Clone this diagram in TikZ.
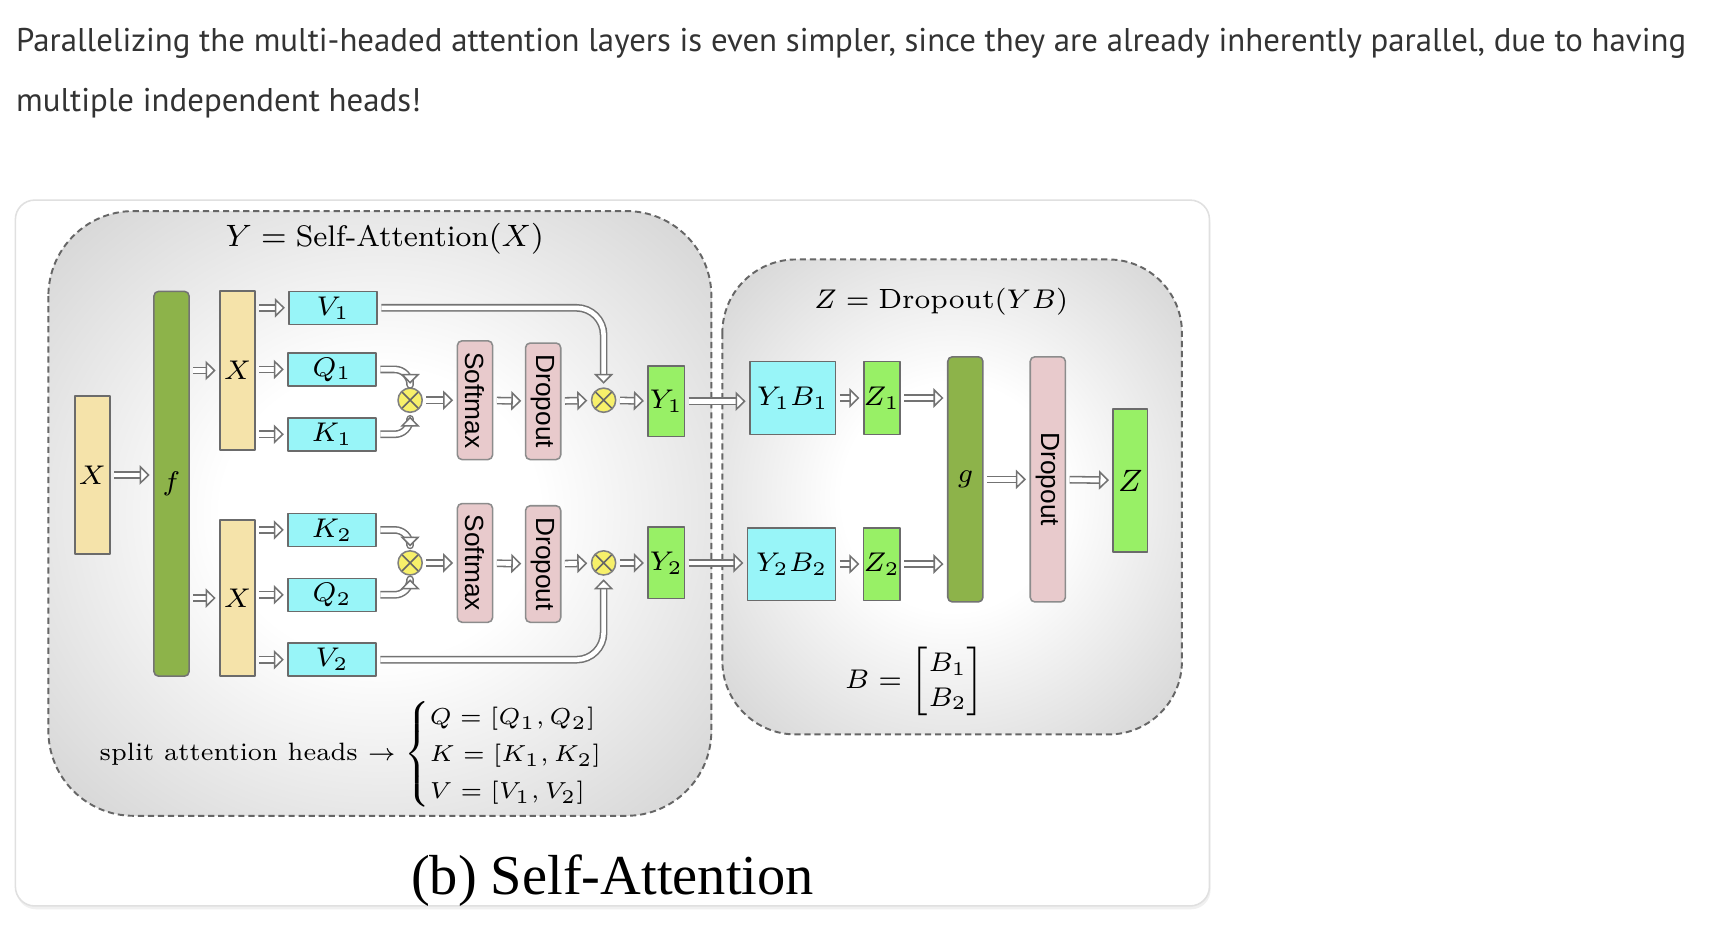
\documentclass[tikz,border=0pt]{standalone}
\usepackage{amsmath,amssymb}
\usepackage{fontspec}
\usepackage{xcolor}
\usepackage{tikz}
\usetikzlibrary{arrows.meta,positioning,calc}
\newfontfamily\parafont{PT Sans}
\newfontfamily\capfont{Liberation Serif}
\newfontfamily\normfont{Liberation Sans}
\definecolor{para}{HTML}{333333}
\definecolor{wheat}{HTML}{F5E3AA}
\definecolor{leaf}{HTML}{8DB34A}
\definecolor{headgreen}{HTML}{98F066}
\definecolor{aqua}{HTML}{98F5F8}
\definecolor{rose}{HTML}{E8CACC}
\definecolor{lemon}{HTML}{F7F06A}
\definecolor{edge}{HTML}{6B6B6B}
\pgfdeclareradialshading{RegionGlow}{\pgfpoint{0bp}{0bp}}{color(0bp)=(white); color(12bp)=(white); color(50bp)=(black!28); color(72bp)=(black!36)}
\newcommand{\LabelSize}{\fontsize{6.6}{8}\selectfont}
\newcommand{\RightSize}{\fontsize{6.6}{8}\selectfont}
\tikzset{
  InBox/.style={draw=edge, fill=wheat, minimum width=0.32cm, inner sep=0pt},
  NetBox/.style={draw=black!55, fill=leaf, rounded corners=1.2pt, minimum width=0.32cm, inner sep=0pt},
  HeadBox/.style={draw=edge, fill=aqua, minimum width=0.8cm, minimum height=0.3cm, inner sep=0pt},
  NormBox/.style={draw=black!45, fill=rose, rounded corners=1.2pt, rotate=-90,
    minimum height=0.32cm, inner sep=0pt, font=\normfont\fontsize{6.8}{8}\selectfont},
  OutBox/.style={draw=edge, fill=headgreen, inner sep=0pt},
  MulNode/.style={circle, draw=black!50, fill=lemon, minimum size=0.22cm, inner sep=0pt,
    path picture={\draw[black!60, line width=0.4pt]
      (path picture bounding box.north west) -- (path picture bounding box.south east)
      (path picture bounding box.north east) -- (path picture bounding box.south west);}},
  DblArrow/.style={draw=black!55, line width=0.4pt, double=white, double distance=1.2pt,
    -{Triangle[fill=white, line width=0.4pt, length=2.6pt, width=5pt]},
    shorten <=0.9pt, shorten >=0.9pt},
  Region/.style={draw=black!60, dash pattern=on 1.6pt off 1pt, line width=0.5pt, shading=RegionGlow}
}

\begin{document}
\begin{tikzpicture}[x=0.1mm, y=-0.1mm, line join=round]
  \useasboundingbox (0,0) rectangle (1568,846);
  \fill[white] (0,0) rectangle (1568,846);

  % text above the figure
  \node[anchor=base west, inner sep=0pt, text=para, font=\parafont\fontsize{8.5}{10}\selectfont] (para1) at (14,47)
    {Parallelizing the multi-headed attention layers is even simpler, since they are already inherently parallel, due to having};
  \node[anchor=base west, inner sep=0pt, text=para, font=\parafont\fontsize{8.5}{10}\selectfont] (para2) at (14,101)
    {multiple independent heads!};

  % card
  \fill[black!6, rounded corners=5pt] (15,185) rectangle (1101,827);
  \draw[black!12, fill=white, rounded corners=5pt] (14,182) rectangle (1100,824);

  % two regions
  \path[Region, rounded corners=22pt] (44,192) rectangle (647,742);
  \path[Region, rounded corners=19pt] (657,236) rectangle (1075,668);

  \node[font=\fontsize{7.7}{9}\selectfont] (titleY) at (350,217) {$Y = \text{Self-Attention}(X)$};
  \node[font=\fontsize{7.2}{9}\selectfont] (titleZ) at (856,274) {$Z = \text{Dropout}(YB)$};

  % input and f
  \node[InBox, minimum height=1.44cm, font=\LabelSize] (Xin) at (84,432) {$X$};
  \node[NetBox, minimum height=3.5cm, font=\LabelSize] (fnet) at (156,440) {$f$};
  \node[InBox, minimum height=1.45cm, font=\LabelSize] (Xa) at (216,337) {$X$};
  \node[InBox, minimum height=1.42cm, font=\LabelSize] (Xb) at (216,544) {$X$};

  % heads
  \node[HeadBox, font=\LabelSize] (V1) at (303,280) {$V_1$};
  \node[HeadBox, font=\LabelSize] (Q1) at (302,336) {$Q_1$};
  \node[HeadBox, font=\LabelSize] (K1) at (302,395) {$K_1$};
  \node[HeadBox, font=\LabelSize] (K2) at (302,482) {$K_2$};
  \node[HeadBox, font=\LabelSize] (Q2) at (302,541) {$Q_2$};
  \node[HeadBox, font=\LabelSize] (V2) at (302,600) {$V_2$};

  \node[MulNode] (m1) at (373,364) {};
  \node[MulNode] (m2) at (373,512) {};
  \node[NormBox, minimum width=1.08cm] (S1) at (432,364) {Softmax};
  \node[NormBox, minimum width=1.06cm] (D1) at (494,365) {Dropout};
  \node[NormBox, minimum width=1.08cm] (S2) at (432,512) {Softmax};
  \node[NormBox, minimum width=1.06cm] (D2) at (494,513) {Dropout};
  \node[MulNode] (n1) at (549,364) {};
  \node[MulNode] (n2) at (549,512) {};
  \node[OutBox, minimum width=0.33cm, minimum height=0.64cm, font=\LabelSize] (Y1) at (606,365) {$Y_1$};
  \node[OutBox, minimum width=0.33cm, minimum height=0.65cm, font=\LabelSize] (Y2) at (606,512) {$Y_2$};

  % right part
  \node[HeadBox, minimum width=0.78cm, minimum height=0.66cm, font=\RightSize] (YB1) at (721,362) {$Y_1B_1$};
  \node[HeadBox, minimum width=0.8cm, minimum height=0.66cm, font=\RightSize] (YB2) at (720,513) {$Y_2B_2$};
  \node[OutBox, minimum width=0.31cm, minimum height=0.66cm, font=\RightSize] (Z1) at (802,362) {$Z_1$};
  \node[OutBox, minimum width=0.33cm, minimum height=0.66cm, font=\RightSize] (Z2) at (802,513) {$Z_2$};
  \node[NetBox, minimum height=2.23cm, font=\fontsize{7.5}{9}\selectfont] (g) at (878,436) {$g$};
  \node[NormBox, minimum width=2.23cm] (Dr) at (953,436) {Dropout};
  \node[OutBox, minimum width=0.31cm, minimum height=1.3cm, font=\fontsize{8}{10}\selectfont] (Zout) at (1028,437) {$Z$};

  \node[font=\fontsize{7.4}{9}\selectfont] (Bmat) at (832,620) {$B = \begin{bmatrix} B_1\\ B_2 \end{bmatrix}$};
  \node[anchor=west, inner sep=0pt, font=\fontsize{6.5}{8}\selectfont] (split) at (90,686)
    {split attention heads $\rightarrow \renewcommand{\arraystretch}{1.45}\begin{cases} Q=[Q_1,Q_2]\\ K=[K_1,K_2]\\ V=[V_1,V_2] \end{cases}$};

  % arrows
  \draw[DblArrow] (Xin) -- (fnet.west |- Xin);
  \draw[DblArrow] (fnet.east |- Xa) -- (Xa);
  \draw[DblArrow] (fnet.east |- Xb) -- (Xb);
  \foreach \h in {V1,Q1,K1}
    \draw[DblArrow] (Xa.east |- \h) -- (\h);
  \foreach \h in {K2,Q2,V2}
    \draw[DblArrow] (Xb.east |- \h) -- (\h);
  \draw[DblArrow, rounded corners=4pt] (Q1.east) -| (m1.north);
  \draw[DblArrow, rounded corners=4pt] (K1.east) -| (m1.south);
  \draw[DblArrow, rounded corners=4pt] (K2.east) -| (m2.north);
  \draw[DblArrow, rounded corners=4pt] (Q2.east) -| (m2.south);
  \draw[DblArrow, rounded corners=7pt] (V1.east) -| (n1.north);
  \draw[DblArrow, rounded corners=7pt] (V2.east) -| (n2.south);
  \foreach \a/\b in {m1/S1,S1/D1,D1/n1,n1/Y1,m2/S2,S2/D2,D2/n2,n2/Y2,YB1/Z1,YB2/Z2,g/Dr,Dr/Zout}
    \draw[DblArrow] (\a) -- (\b);
  \draw[DblArrow] (Y1.east) -- (YB1.west |- Y1.east);
  \draw[DblArrow] (Y2.east) -- (YB2.west |- Y2.east);
  \draw[DblArrow] (Z1.east) -- (g.west |- Z1.east);
  \draw[DblArrow] (Z2.east) -- (g.west |- Z2.east);

  % caption
  \node[font=\capfont\fontsize{14.6}{18}\selectfont] (caption) at (557,801) {(b) Self-Attention};
\end{tikzpicture}
\end{document}
